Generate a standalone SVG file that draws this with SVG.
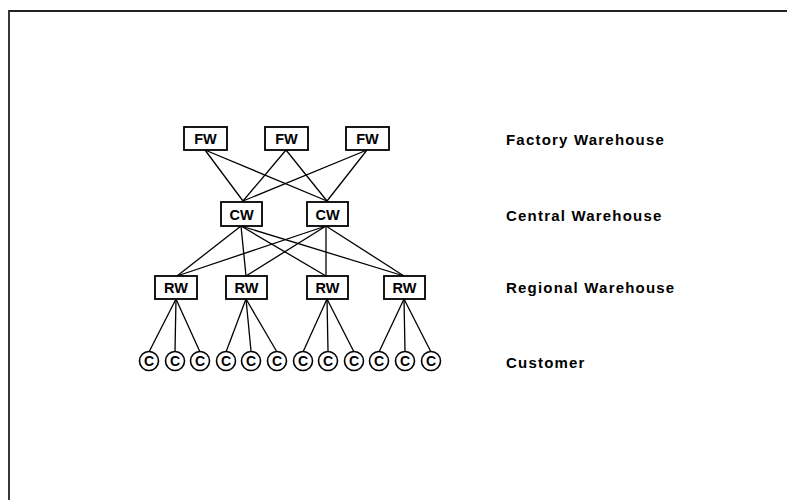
<svg xmlns="http://www.w3.org/2000/svg" width="787" height="500" viewBox="0 0 787 500">
<style>
.bx{fill:#fff;stroke:#000;stroke-width:1.8}
.cc{fill:#fff;stroke:#000;stroke-width:1.6}
.t{font-family:"Liberation Sans",Arial,sans-serif;font-weight:bold;fill:#000;text-anchor:middle}
.bt{font-size:14.5px}
.ct{font-size:14px}
.lab{font-family:"Liberation Sans",Arial,sans-serif;font-weight:bold;font-size:15px;fill:#000;letter-spacing:1.2px}
#connectors line{stroke:#000;stroke-width:1.3}
</style>
<rect width="787" height="500" fill="#fff"/>
<path d="M9,500 V11 H787" fill="none" stroke="#222" stroke-width="1.8"/>
<g id="connectors">
<line x1="205" y1="150" x2="243" y2="201"/>
<line x1="205" y1="150" x2="327" y2="201"/>
<line x1="286" y1="150" x2="243" y2="201"/>
<line x1="286" y1="150" x2="327" y2="201"/>
<line x1="367" y1="150" x2="243" y2="201"/>
<line x1="367" y1="150" x2="327" y2="201"/>
<line x1="241" y1="226" x2="177" y2="276"/>
<line x1="241" y1="226" x2="246" y2="276"/>
<line x1="241" y1="226" x2="326" y2="276"/>
<line x1="241" y1="226" x2="404" y2="276"/>
<line x1="326" y1="226" x2="177" y2="276"/>
<line x1="326" y1="226" x2="246" y2="276"/>
<line x1="326" y1="226" x2="326" y2="276"/>
<line x1="326" y1="226" x2="404" y2="276"/>
<line x1="176" y1="299" x2="149" y2="352"/>
<line x1="176" y1="299" x2="175" y2="351"/>
<line x1="176" y1="299" x2="200" y2="352"/>
<line x1="246" y1="299" x2="226" y2="352"/>
<line x1="246" y1="299" x2="251" y2="351"/>
<line x1="246" y1="299" x2="277" y2="352"/>
<line x1="327" y1="299" x2="303" y2="352"/>
<line x1="327" y1="299" x2="328" y2="351"/>
<line x1="327" y1="299" x2="354" y2="352"/>
<line x1="404" y1="299" x2="379" y2="352"/>
<line x1="404" y1="299" x2="405" y2="351"/>
<line x1="404" y1="299" x2="431" y2="352"/>
</g>
<g id="fw1"><rect class="bx" x="184" y="127" width="43" height="23"/><text class="t bt" x="205.5" y="144">FW</text></g>
<g id="fw2"><rect class="bx" x="265" y="127" width="43" height="23"/><text class="t bt" x="286.5" y="144">FW</text></g>
<g id="fw3"><rect class="bx" x="346" y="127" width="43" height="23"/><text class="t bt" x="367.5" y="144">FW</text></g>
<g id="cw1"><rect class="bx" x="221" y="202" width="41" height="24"/><text class="t bt" x="241.5" y="219.5">CW</text></g>
<g id="cw2"><rect class="bx" x="307" y="202" width="41" height="24"/><text class="t bt" x="327.5" y="219.5">CW</text></g>
<g id="rw1"><rect class="bx" x="155" y="276" width="42" height="23"/><text class="t bt" x="176" y="293">RW</text></g>
<g id="rw2"><rect class="bx" x="226" y="276" width="41" height="23"/><text class="t bt" x="246.5" y="293">RW</text></g>
<g id="rw3"><rect class="bx" x="307" y="276" width="41" height="23"/><text class="t bt" x="327.5" y="293">RW</text></g>
<g id="rw4"><rect class="bx" x="384" y="276" width="41" height="23"/><text class="t bt" x="404.5" y="293">RW</text></g>
<g id="c1"><circle class="cc" cx="149" cy="361" r="9.5"/><text class="t ct" x="149" y="366">C</text></g>
<g id="c2"><circle class="cc" cx="175" cy="361" r="9.5"/><text class="t ct" x="175" y="366">C</text></g>
<g id="c3"><circle class="cc" cx="200" cy="361" r="9.5"/><text class="t ct" x="200" y="366">C</text></g>
<g id="c4"><circle class="cc" cx="226" cy="361" r="9.5"/><text class="t ct" x="226" y="366">C</text></g>
<g id="c5"><circle class="cc" cx="251" cy="361" r="9.5"/><text class="t ct" x="251" y="366">C</text></g>
<g id="c6"><circle class="cc" cx="277" cy="361" r="9.5"/><text class="t ct" x="277" y="366">C</text></g>
<g id="c7"><circle class="cc" cx="303" cy="361" r="9.5"/><text class="t ct" x="303" y="366">C</text></g>
<g id="c8"><circle class="cc" cx="328" cy="361" r="9.5"/><text class="t ct" x="328" y="366">C</text></g>
<g id="c9"><circle class="cc" cx="354" cy="361" r="9.5"/><text class="t ct" x="354" y="366">C</text></g>
<g id="c10"><circle class="cc" cx="379" cy="361" r="9.5"/><text class="t ct" x="379" y="366">C</text></g>
<g id="c11"><circle class="cc" cx="405" cy="361" r="9.5"/><text class="t ct" x="405" y="366">C</text></g>
<g id="c12"><circle class="cc" cx="431" cy="361" r="9.5"/><text class="t ct" x="431" y="366">C</text></g>
<g id="labels">
<text class="lab" x="506" y="145">Factory  Warehouse</text>
<text class="lab" x="506" y="221">Central  Warehouse</text>
<text class="lab" x="506" y="293">Regional  Warehouse</text>
<text class="lab" x="506" y="368">Customer</text>
</g>
</svg>
